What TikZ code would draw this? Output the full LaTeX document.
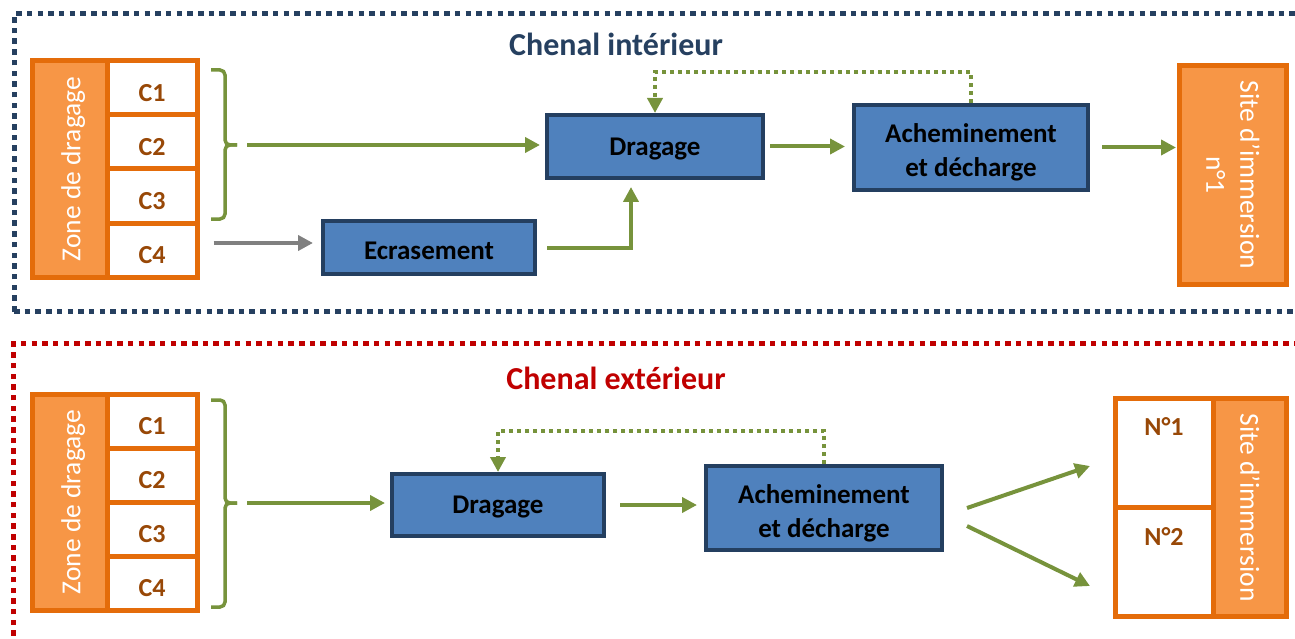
\documentclass[tikz,border=0pt]{standalone}
\usepackage{fontspec}
\setmainfont{Carlito}
\usetikzlibrary{arrows.meta}

\definecolor{navy}{RGB}{38,64,96}
\definecolor{darkred}{RGB}{192,0,0}
\definecolor{flowgreen}{RGB}{119,147,60}
\definecolor{orangeline}{RGB}{228,108,10}
\definecolor{orangefill}{RGB}{247,150,70}
\definecolor{brownlab}{RGB}{152,72,7}
\definecolor{boxblue}{RGB}{79,129,189}
\definecolor{boxline}{RGB}{36,63,96}
\definecolor{grayarrow}{RGB}{128,128,128}

\begin{document}
\begin{tikzpicture}[x=1pt,y=-1pt,
    bluebox/.style={draw=boxline, fill=boxblue, line width=4pt, align=center,
      inner sep=0pt, text depth=0pt, font=\bfseries\fontsize{27}{34}\selectfont},
    zonebox/.style={draw=orangeline, fill=orangefill, line width=5pt, text=white,
      align=center, inner sep=0pt, font=\fontsize{27.5}{34}\selectfont},
    cellbox/.style={draw=orangeline, fill=white, line width=5pt, inner sep=0pt,
      minimum width=90pt, minimum height=54pt, text height=27pt, text depth=0pt,
      text=brownlab, font=\bfseries\fontsize{26}{30}\selectfont},
    lab/.style={text=brownlab, font=\bfseries\fontsize{26}{30}\selectfont},
    title/.style={font=\bfseries\fontsize{32}{38}\selectfont},
    flow/.style={draw=flowgreen, line width=4pt, -{Triangle[length=15pt,width=15pt]}},
    back/.style={flow, dash pattern=on 4pt off 4pt},
    brace/.style={draw=flowgreen, line width=3.5pt, rounded corners=5pt},
    frame/.style={line width=5pt, dash pattern=on 5.5pt off 5.2pt}]

    \useasboundingbox (0,0) rectangle (1295,639);
    \clip (0,0) rectangle (1295,639);

    % cadres
    \draw [frame, navy] (14,311.5) -- (14,14) -- (1300,14);
    \draw [frame, navy] (14,311.5) -- (1300,311.5);
    \draw [frame, darkred] (13.5,700) -- (13.5,343.5) -- (1300,343.5);

    % chenal interieur
    \node [title, text=navy] (t1) at (616,44) {Chenal intérieur};

    \node [zonebox, rotate=90, minimum width=216pt, minimum height=75pt, text height=27pt, text depth=5.5pt] (zone1) at (69.5,169) {Zone de dragage};
    \node [cellbox] (c11) at (152,88) {C1};
    \node [cellbox] (c12) at (152,142) {C2};
    \node [cellbox] (c13) at (152,196) {C3};
    \node [cellbox] (c14) at (152,250) {C4};

    \draw [brace] (211,70) -| (225,145) -- (237,145);
    \draw [brace] (211,219) -| (225,145) -- (237,145);
    \coordinate (b1) at (237,145);

    \node [bluebox, minimum width=216pt, minimum height=63pt] (drag1) at (655,146.5) {Dragage};
    \node [bluebox, minimum width=234pt, minimum height=85pt, text height=59pt] (ach1) at (971,147.5) {Acheminement\\et décharge};
    \node [bluebox, minimum width=212pt, minimum height=53pt, text height=24pt] (ecr) at (429,247.5) {Ecrasement};
    \node [zonebox, rotate=-90, minimum width=219pt, minimum height=107pt] (site1) at (1233,175) {Site d’immersion\\n°1};

    \draw [flow, shorten <=10pt, shorten >=5pt] (b1) -- (b1 -| drag1.west);
    \draw [flow, shorten <=5pt, shorten >=7pt] (drag1.east) -- (drag1.east -| ach1.west);
    \draw [flow, shorten <=12pt, shorten >=1pt] (ach1.east) -- (ach1.east -| site1.south);
    \draw [back] (ach1.north) -- ++(0,-31) -| (drag1.north);
    \draw [flow, draw=grayarrow, shorten <=14pt, shorten >=8pt] ([yshift=7pt]c14.east) -- ([yshift=7pt]c14.east -| ecr.west);
    \draw [flow, shorten <=10pt, shorten >=7pt] (ecr.east) -| ([xshift=-24pt]drag1.south);

    % chenal exterieur
    \node [title, text=darkred] (t2) at (616,378) {Chenal extérieur};

    \node [zonebox, rotate=90, minimum width=216pt, minimum height=75pt, text height=27pt, text depth=5.5pt] (zone2) at (69.5,502) {Zone de dragage};
    \node [cellbox] (c21) at (152,421) {C1};
    \node [cellbox] (c22) at (152,475) {C2};
    \node [cellbox] (c23) at (152,529) {C3};
    \node [cellbox] (c24) at (152,583) {C4};

    \draw [brace] (211,400) -| (225,503) -- (237,503);
    \draw [brace] (211,607) -| (225,503) -- (237,503);
    \coordinate (b2) at (237,503);

    \node [bluebox, minimum width=212pt, minimum height=62pt] (drag2) at (498,505) {Dragage};
    \node [bluebox, minimum width=236pt, minimum height=84pt, text height=59pt] (ach2) at (824,508) {Acheminement\\et décharge};

    \node [cellbox, minimum width=98pt, minimum height=109pt] (cell1) at (1164.5,453) {};
    \node [cellbox, minimum width=98pt, minimum height=109pt] (cell2) at (1164.5,562) {};
    \node [zonebox, rotate=-90, minimum width=218pt, minimum height=73pt] (site2) at (1250,507.5) {Site d’immersion};
    \node [lab] (n1) at (1164,427) {N°1};
    \node [lab] (n2) at (1164,537) {N°2};
    \coordinate (s1in) at (1090,466);
    \coordinate (s2in) at (1090,586);

    \draw [flow, shorten <=10pt, shorten >=5pt] (b2) -- (b2 -| drag2.west);
    \draw [flow, shorten <=14pt, shorten >=7pt] (drag2.east) -- (drag2.east -| ach2.west);
    \draw [back] (ach2.north) -- ++(0,-33) -| (drag2.north);
    \draw [flow] ([shift={(23,0)}]ach2.east) -- (s1in);
    \draw [flow] ([shift={(23,18)}]ach2.east) -- (s2in);
\end{tikzpicture}
\end{document}
